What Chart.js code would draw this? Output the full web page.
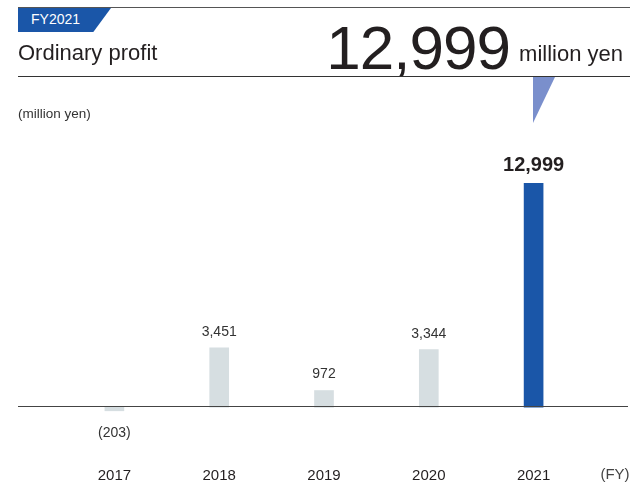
<!DOCTYPE html>
<html>
<head>
<meta charset="utf-8">
<script src="https://cdn.jsdelivr.net/npm/chart.js@4/dist/chart.umd.min.js"></script>
<style>
  html, body { margin: 0; padding: 0; background: #fff; }
  body { width: 630px; height: 486px; position: relative; overflow: hidden;
         font-family: "Liberation Sans", Arial, Helvetica, sans-serif; color: #231f20; }
  #chart-wrap { position: absolute; left: 0; top: 0; width: 630px; height: 486px; }
  .rule { position: absolute; left: 18px; right: 0; height: 1px; }
  .rule.top { top: 7px; background: #555; }
  .rule.bottom { top: 76px; background: #333; }
  .tab { position: absolute; left: 18px; top: 8px; width: 93px; height: 24px; background: #1a56a8;
         clip-path: polygon(0 0, 100% 0, 81% 100%, 0 100%); }
  .tab span { position: absolute; left: 13px; top: 3px; color: #fff; font-size: 14px; }
  .title { position: absolute; left: 18px; top: 40px; font-size: 22px; line-height: 26px; }
  .big { position: absolute; right: 120px; top: 17px; font-size: 62px; line-height: 62px; letter-spacing: -1px; }
  .unit { position: absolute; right: 7px; top: 41px; font-size: 22px; line-height: 26px; }
  .pointer { position: absolute; left: 533px; top: 77px; width: 22px; height: 46px; background: #7a8fcc;
             clip-path: polygon(0 0, 100% 0, 0 100%); }
  .axis-unit { position: absolute; left: 18px; top: 106px; font-size: 13.5px; color: #333; }
</style>
</head>
<body>
<div id="chart-wrap"><canvas id="profitChart" width="630" height="486"></canvas></div>
<div class="rule top"></div>
<div class="tab"><span>FY2021</span></div>
<div class="title">Ordinary profit</div>
<div class="big">12,999</div>
<div class="unit">million yen</div>
<div class="rule bottom"></div>
<div class="pointer"></div>
<div class="axis-unit">(million yen)</div>
<script>
const years = ['2017', '2018', '2019', '2020', '2021'];
const profit = [-203, 3451, 972, 3344, 12999];
const barColors = ['#d6dee1', '#d6dee1', '#d6dee1', '#d6dee1', '#1a56a8'];

// 1,234 for positives, (203) for losses
function fmt(v) {
    const s = Math.abs(v).toLocaleString('en-US');
    return v < 0 ? `(${s})` : s;
}

const annotate = {
    id: 'annotate',
    afterDatasetsDraw(chart) {
        const { ctx, scales: { y } } = chart;
        const y0 = y.getPixelForValue(0);
        ctx.save();

        // zero line across the plot
        ctx.strokeStyle = '#444';
        ctx.lineWidth = 1;
        ctx.beginPath();
        ctx.moveTo(18, Math.round(y0) - 0.5);
        ctx.lineTo(628, Math.round(y0) - 0.5);
        ctx.stroke();

        // values over/under the bars
        ctx.textAlign = 'center';
        ctx.textBaseline = 'middle';
        chart.getDatasetMeta(0).data.forEach((bar, i) => {
            const v = profit[i];
            const last = i === profit.length - 1;
            ctx.fillStyle = last ? '#231f20' : '#333';
            ctx.font = last ? 'bold 20px "Liberation Sans", Arial, sans-serif'
                            : '14px "Liberation Sans", Arial, sans-serif';
            const ty = v < 0 ? bar.y + 22 : bar.y - (last ? 18 : 16);
            ctx.fillText(fmt(v), bar.x, ty);
        });

        // fiscal-year marker after the last category
        ctx.fillStyle = '#444';
        ctx.font = '15px "Liberation Sans", Arial, sans-serif';
        ctx.fillText('(FY)', 615, 475);
        ctx.restore();
    }
};

new Chart(document.getElementById('profitChart'), {
    type: 'bar',
    data: {
        labels: years,
        datasets: [{
            data: profit,
            backgroundColor: barColors,
            borderWidth: 0,
            barThickness: 19
        }]
    },
    options: {
        responsive: false,
        animation: false,
        events: [],
        layout: { padding: { top: 166, left: 62, right: 44, bottom: -7 } },
        plugins: { legend: { display: false }, tooltip: { enabled: false } },
        scales: {
            x: {
                grid: { display: false, drawTicks: false },
                border: { display: false },
                ticks: {
                    color: '#231f20',
                    padding: 8,
                    font: { family: '"Liberation Sans", Arial, sans-serif', size: 15 }
                }
            },
            y: { display: false, min: -3000, max: 14000 }
        }
    },
    plugins: [annotate]
});
</script>
</body>
</html>
